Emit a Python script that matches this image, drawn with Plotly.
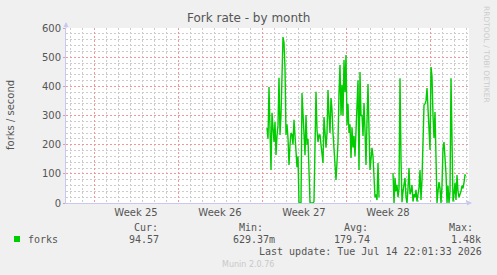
import numpy as np
import pandas as pd
import plotly.graph_objects as go

# ---- data ----
start_time = "2026-06-29 10:00"
step = "2h"
forks = [
    257, 220, 398, 250, 113, 309, 250, 209, 278, 165,
    230, 267, 429, 233, 300, 450, 569, 550, 463, 233,
    270, 223, 130, 200, 240, 235, 200, 285, 220, 200,
    123, 160, 0, 0, 0, 377, 300, 250, 164, 302,
    200, 220, 100, 0, 0, 0, 0, 5, 200, 381,
    250, 209, 233, 233, 200, 164, 137, 295, 240, 190,
    240, 387, 300, 240, 360, 320, 240, 180, 130, 79,
    140, 209, 377, 473, 300, 405, 300, 490, 380, 507,
    267, 340, 240, 270, 154, 260, 190, 230, 160, 230,
    300, 421, 113, 449, 300, 300, 230, 343, 250, 130,
    280, 408, 250, 113, 150, 189, 160, 60, 20, 30,
    10, 137, 20, None, None, None, None, None, None, None,
    None, None, None, None, None, None, 103, 0, 86, 40,
    62, 20, 50, 428, 150, 3, 40, 60, 86, 20,
    0, 50, 120, 30, 40, 62, 5, 30, 20, 45,
    5, 30, 50, 113, 10, 80, 200, 336, 340, 350,
    394, 330, 267, 182, 466, 434, 300, 223, 312, 100,
    0, 40, 72, 50, 0, 60, 188, 209, 164, 100,
    0, 60, 0, 40, 428, 150, 5, 30, 70, 10,
    96, 40, 20, 30, 40, 60, 50, 70, 96, 94.57,
]
times = pd.date_range(start_time, periods=len(forks), freq=step)

y_ticks = [0, 100, 200, 300, 400, 500, 600]
legend_name = "forks"
stat_labels = ["Cur:", "Min:", "Avg:", "Max:"]
stat_values = ["94.57", "629.37m", "179.74", "1.48k"]
last_update = "Last update: Tue Jul 14 22:01:33 2026"

# ---- geometry (pixels) ----
W, H = 497, 275
L, R, T, B = 66, 469, 28, 203


def xp(px):
    return (px - L) / (R - L)


def yp(py):
    return (B - py) / (B - T)


GREEN = "#00cc00"
TXT = "#555555"
MAJ = "#ee9999"
MIN = "#cccccc"
AXC = "#c8c8f0"
DASH = "2px,2px"

fig = go.Figure()
fig.add_trace(go.Scatter(
    x=times, y=forks, mode="lines", connectgaps=False,
    line=dict(color=GREEN, width=1.4), hoverinfo="skip", showlegend=False,
))

fig.update_layout(
    width=W, height=H,
    margin=dict(l=L, r=W - R, t=T, b=H - B),
    paper_bgcolor="#f0f0f0", plot_bgcolor="#ffffff",
    font=dict(family="DejaVu Sans", size=10, color=TXT),
    showlegend=False,
    xaxis=dict(
        type="date",
        range=["2026-06-12 16:00", "2026-07-16 06:00"],
        tick0="2026-06-15", dtick=7 * 86400000,
        ticklabelmode="period", tickformat="Week %V",
        showgrid=True, gridcolor=MAJ, griddash=DASH, gridwidth=1,
        minor=dict(dtick=86400000, tick0="2026-06-15", showgrid=True,
                   gridcolor=MIN, griddash=DASH, gridwidth=1),
        showline=True, linecolor=AXC, linewidth=1,
        ticks="", zeroline=False, fixedrange=True,
        tickfont=dict(size=10, color=TXT),
    ),
    yaxis=dict(
        range=[0, 600], tickvals=y_ticks,
        showgrid=True, gridcolor=MAJ, griddash=DASH, gridwidth=1,
        minor=dict(dtick=20, showgrid=True, gridcolor=MIN, griddash=DASH, gridwidth=1),
        showline=True, linecolor=AXC, linewidth=1,
        ticks="outside", ticklen=2, tickcolor=MAJ,
        zeroline=False, fixedrange=True,
        tickfont=dict(size=10, color=TXT),
    ),
)

ann = []
# title
ann.append(dict(text="Fork rate - by month", x=xp(248), y=yp(18), xref="paper", yref="paper",
                showarrow=False, font=dict(size=12, color=TXT), xanchor="center", yanchor="middle"))
# y axis title
ann.append(dict(text="forks / second", x=xp(10), y=yp(115), xref="paper", yref="paper",
                showarrow=False, textangle=-90, font=dict(size=10, color=TXT),
                xanchor="center", yanchor="middle"))
# rrdtool credit
ann.append(dict(text="RRDTOOL / TOBI OETIKER", x=xp(487), y=yp(54), xref="paper", yref="paper",
                showarrow=False, textangle=90, font=dict(size=7.5, color="#cccccc"),
                xanchor="center", yanchor="middle"))
# axis arrows
ann.append(dict(text="", x=xp(L), y=yp(22), xref="paper", yref="paper", showarrow=True,
                ax=0, ay=8, arrowhead=2, arrowsize=1, arrowwidth=1, arrowcolor=AXC))
ann.append(dict(text="", x=xp(472), y=yp(B), xref="paper", yref="paper", showarrow=True,
                ax=-8, ay=0, arrowhead=2, arrowsize=1, arrowwidth=1, arrowcolor=AXC))

MONO = "DejaVu Sans Mono"
ann.append(dict(text=legend_name, x=xp(26), y=yp(239), xref="paper", yref="paper", showarrow=False,
                xanchor="left", yanchor="middle", font=dict(family=MONO, size=10, color=TXT)))
label_x = [132, 237, 342, 447]
value_right = [161, 277, 372, 483]
for lx, lab, vr, val in zip(label_x, stat_labels, value_right, stat_values):
    ann.append(dict(text=lab, x=xp(lx), y=yp(227), xref="paper", yref="paper", showarrow=False,
                    xanchor="left", yanchor="middle", font=dict(family=MONO, size=10, color=TXT)))
    ann.append(dict(text=val, x=xp(vr), y=yp(239), xref="paper", yref="paper", showarrow=False,
                    xanchor="right", yanchor="middle", font=dict(family=MONO, size=10, color=TXT)))
ann.append(dict(text=last_update, x=xp(484), y=yp(251), xref="paper", yref="paper", showarrow=False,
                xanchor="right", yanchor="middle", font=dict(family=MONO, size=10, color=TXT)))
ann.append(dict(text="Munin 2.0.76", x=xp(248), y=yp(264), xref="paper", yref="paper", showarrow=False,
                xanchor="center", yanchor="middle", font=dict(size=8, color="#c8c8c8")))
fig.update_layout(annotations=ann)

fig.add_shape(type="rect", xref="paper", yref="paper", x0=xp(14), x1=xp(20), y0=yp(236), y1=yp(242),
              fillcolor=GREEN, line=dict(width=0))

fig.write_html("out.html", config={"displayModeBar": False})
